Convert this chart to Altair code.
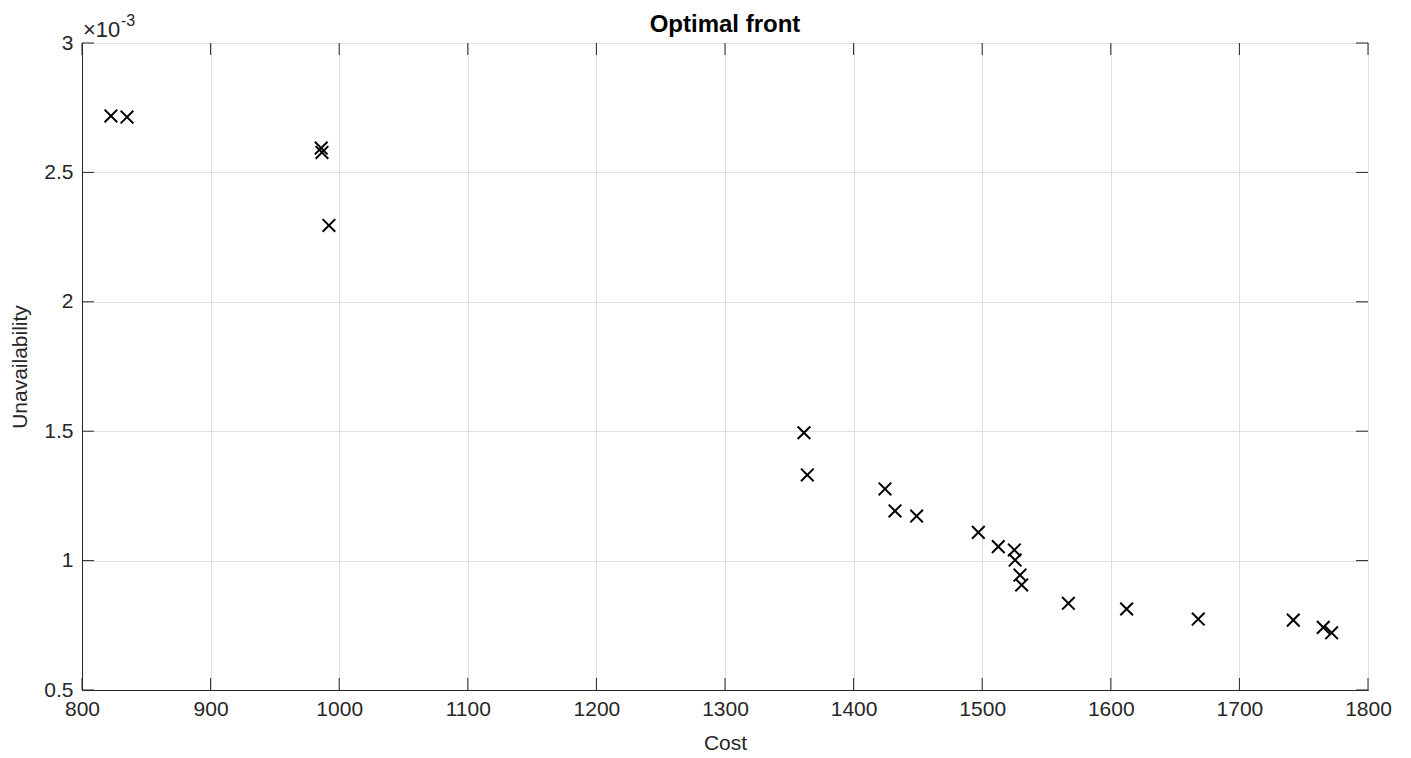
import altair as alt
import pandas as pd

# Pareto front: cost vs. unavailability (unavailability in units of 1e-3)
cost = [822.5, 835.0, 986.0, 986.6, 992.0, 1361.4, 1364.0, 1424.4, 1432.2,
        1449.0, 1497.0, 1512.5, 1525.0, 1525.6, 1529.4, 1530.7, 1567.0,
        1612.3, 1668.0, 1741.9, 1765.2, 1771.7]
unavail_e3 = [2.718, 2.714, 2.594, 2.577, 2.295, 1.494, 1.331, 1.277, 1.192,
              1.172, 1.109, 1.054, 1.041, 1.002, 0.944, 0.906, 0.835,
              0.813, 0.774, 0.770, 0.742, 0.721]

x_ticks = [800, 900, 1000, 1100, 1200, 1300, 1400, 1500, 1600, 1700, 1800]
y_ticks = [0.5, 1.0, 1.5, 2.0, 2.5, 3.0]

W, H = 1286, 647
TICK = 12
INK = "#262626"
FONT = "Liberation Sans"

pts = pd.DataFrame({"cost": cost, "u": unavail_e3})
xt = pd.DataFrame({"t": x_ticks})
yt = pd.DataFrame({"t": y_ticks})

xscale = alt.Scale(domain=[800, 1800], nice=False, zero=False)
yscale = alt.Scale(domain=[0.5, 3.0], nice=False, zero=False)

x_axis = alt.Axis(values=x_ticks, ticks=False, labelPadding=8, grid=True,
                  labelFlush=False, title="Cost", titlePadding=13, format="d")
y_axis = alt.Axis(values=y_ticks, ticks=False, labelPadding=9, grid=True,
                  labelFlush=False, title="Unavailability", titlePadding=13,
                  labelExpr="format(datum.value, '~g')")

x_mark = "M-1,-1L1,1M-1,1L1,-1"

points = alt.Chart(pts).mark_point(
    shape=x_mark, size=160, filled=False, color="black", strokeWidth=2, opacity=1
).encode(
    x=alt.X("cost:Q", scale=xscale, axis=x_axis),
    y=alt.Y("u:Q", scale=yscale, axis=y_axis),
)

tick_style = dict(color=INK, strokeWidth=1)
x_bottom = alt.Chart(xt).mark_rule(**tick_style).encode(
    x=alt.X("t:Q", scale=xscale), y=alt.value(H), y2=alt.value(H - TICK))
x_top = alt.Chart(xt).mark_rule(**tick_style).encode(
    x=alt.X("t:Q", scale=xscale), y=alt.value(0), y2=alt.value(TICK))
y_left = alt.Chart(yt).mark_rule(**tick_style).encode(
    y=alt.Y("t:Q", scale=yscale), x=alt.value(0), x2=alt.value(TICK))
y_right = alt.Chart(yt).mark_rule(**tick_style).encode(
    y=alt.Y("t:Q", scale=yscale), x=alt.value(W - TICK), x2=alt.value(W))

# axis exponent label
exp_base = alt.Chart(pd.DataFrame({"s": ["\u00d710"]})).mark_text(
    align="left", baseline="alphabetic", font=FONT, fontSize=22, color=INK
).encode(text="s:N", x=alt.value(1), y=alt.value(-6))
exp_pow = alt.Chart(pd.DataFrame({"s": ["-3"]})).mark_text(
    align="left", baseline="alphabetic", font=FONT, fontSize=16, color=INK
).encode(text="s:N", x=alt.value(39), y=alt.value(-17))

# plot title
title = alt.Chart(pd.DataFrame({"s": ["Optimal front"]})).mark_text(
    align="center", baseline="alphabetic", font=FONT, fontSize=24,
    fontWeight="bold", color="black"
).encode(text="s:N", x=alt.value(W / 2), y=alt.value(-11))

chart = alt.layer(
    points, x_bottom, x_top, y_left, y_right, exp_base, exp_pow, title
).properties(
    width=W, height=H,
    background="white",
    autosize=alt.AutoSizeParams(type="none"),
    padding={"left": 82, "top": 43, "right": 43, "bottom": 68},
).configure_view(
    stroke=INK, strokeWidth=1
).configure_axis(
    labelFont=FONT, titleFont=FONT, labelFontSize=21, titleFontSize=21,
    labelColor=INK, titleColor=INK, titleFontWeight="normal",
    domainColor=INK, domainWidth=1,
    gridColor="#dfdfdf", gridWidth=1,
)

chart.save("out.html", embed_options={"renderer": "svg", "actions": False})
